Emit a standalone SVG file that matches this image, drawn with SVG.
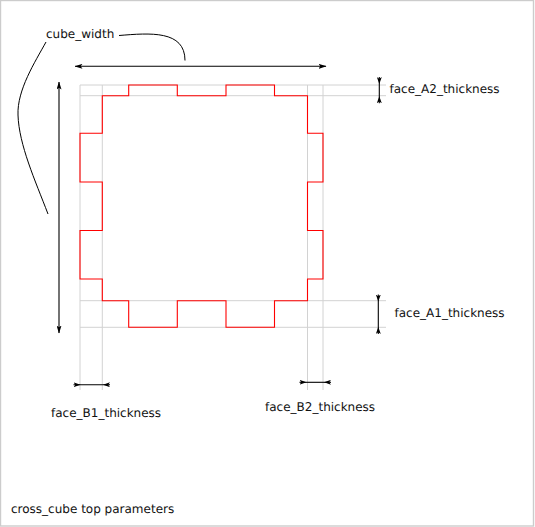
<svg xmlns="http://www.w3.org/2000/svg" width="535" height="527" viewBox="0 0 535 527">
<style>
text{font-family:"DejaVu Sans",sans-serif;font-size:12px;fill:#111;text-rendering:geometricPrecision}
.g{stroke:#d2d2d2;stroke-width:1;fill:none}
.d{stroke:#000;stroke-width:1.1;fill:none}
.o{marker-start:url(#os);marker-end:url(#oe)}
.i{marker-start:url(#is);marker-end:url(#ie)}
.c{stroke:#000;stroke-width:1;fill:none}
</style>
<defs>
<marker id="oe" viewBox="0 0 8 5" refX="7.500" refY="2.500" markerWidth="8" markerHeight="5" markerUnits="userSpaceOnUse" orient="auto"><path d="M0 0L8 2.500L0 5L1.800 2.500Z" fill="#000"/></marker>
<marker id="os" viewBox="0 0 8 5" refX="0.500" refY="2.500" markerWidth="8" markerHeight="5" markerUnits="userSpaceOnUse" orient="auto"><path d="M8 0L0 2.500L8 5L6.200 2.500Z" fill="#000"/></marker>
<marker id="is" viewBox="0 0 7 5" refX="0" refY="2.500" markerWidth="7" markerHeight="5" markerUnits="userSpaceOnUse" orient="auto"><path d="M0 0L7 2.500L0 5L1.800 2.500Z" fill="#000"/></marker>
<marker id="ie" viewBox="0 0 7 5" refX="7" refY="2.500" markerWidth="7" markerHeight="5" markerUnits="userSpaceOnUse" orient="auto"><path d="M7 0L0 2.500L7 5L5.200 2.500Z" fill="#000"/></marker>
</defs>
<rect x="0.500" y="0.500" width="533" height="525.500" fill="#fff" stroke="#ccc" stroke-width="1.400"/>
<g id="guides">
<path class="g" d="M80 85H386M80 95.700H386M80 300.700H386M80 327.300H386M80 85V390M102.300 85V390M307.500 85V390M323 85V390"/>
</g>
<g id="profile">
<path fill="none" stroke="#f00" stroke-width="1.100" d="M102.300 95.700H128.700V85H177.300V95.700H226V85H274.500V95.700H307.500V133.300H323V182H307.500V230.500H323V279H307.500V300.700H274.500V327.300H226V300.700H177.300V327.300H128.700V300.700H102.300V279H80V230.500H102.300V182H80V133.300H102.300Z"/>
</g>
<g id="connectors">
<path class="d o" d="M75 66.300H326"/>
<path class="d o" d="M59 82V333"/>
<path class="d i" d="M379.300 77V103.300"/>
<path class="d i" d="M378.300 294.500V334"/>
<path class="d i" d="M73.500 384.700H110"/>
<path class="d i" d="M299.500 382.300H331"/>
<path class="c" d="M119 35.500C150 33 185 30 185 60.500"/>
<path class="c" d="M46 42C35 62 17 90 18 115C19 145 35 180 48 214"/>
</g>
<g id="labels">
<text x="46" y="38">cube_width</text>
<text x="389.500" y="93">face_A2_thickness</text>
<text x="394.500" y="317">face_A1_thickness</text>
<text x="51" y="417">face_B1_thickness</text>
<text x="265" y="411">face_B2_thickness</text>
<text x="11" y="513">cross_cube top parameters</text>
</g>
</svg>
